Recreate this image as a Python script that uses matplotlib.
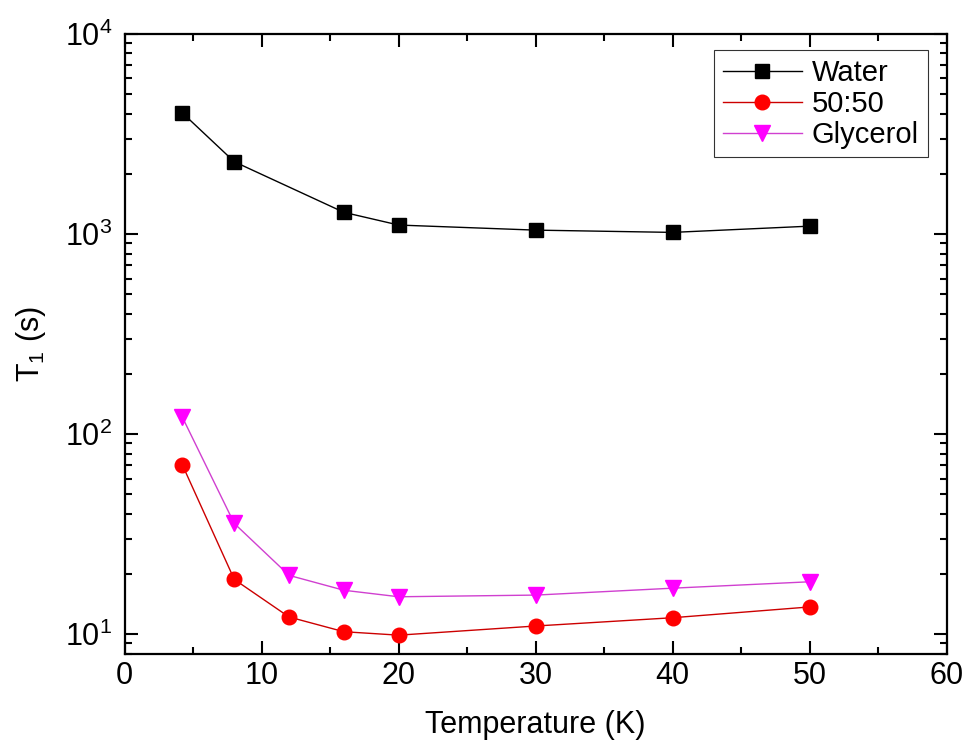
import numpy as np
import matplotlib
matplotlib.use('Agg')
import matplotlib.pyplot as plt
from matplotlib.ticker import LogLocator, MultipleLocator, NullFormatter

plt.rcParams['font.family'] = ['Liberation Sans', 'DejaVu Sans']
plt.rcParams['mathtext.fontset'] = 'custom'
plt.rcParams['mathtext.rm'] = 'Liberation Sans'
plt.rcParams['mathtext.it'] = 'Liberation Sans'

# data
temp = [4.2, 8, 16, 20, 30, 40, 50]
water = [4040, 2300, 1285, 1110, 1047, 1020, 1096]

temp_mix = [4.2, 8, 12, 16, 20, 30, 40, 50]
mix_5050 = [70.5, 18.8, 12.2, 10.3, 9.9, 11.0, 12.1, 13.7]
glycerol = [122, 35.8, 19.7, 16.6, 15.4, 15.7, 17.0, 18.3]

fig = plt.figure(figsize=(9.68, 7.53), dpi=100)
ax = fig.add_axes([0.1288, 0.1319, 0.8492, 0.8229])

ax.plot(temp, water, color='black', lw=1, marker='s', ms=9.5,
        mfc='black', mec='black', label='Water')
ax.plot(temp_mix, mix_5050, color='#cc0000', lw=1, marker='o', ms=10.5,
        mfc='red', mec='red', label='50:50')
ax.plot(temp_mix, glycerol, color='#d040d0', lw=1, marker='v', ms=11.5,
        mfc='#ff00ff', mec='#ff00ff', label='Glycerol')

ax.set_yscale('log')
ax.set_xlim(0, 60)
ax.set_ylim(8, 1e4)

ax.xaxis.set_major_locator(MultipleLocator(10))
ax.xaxis.set_minor_locator(MultipleLocator(5))
ax.yaxis.set_major_locator(LogLocator(base=10, numticks=10))
ax.yaxis.set_minor_locator(LogLocator(base=10, subs=np.arange(2, 10), numticks=20))
ax.yaxis.set_minor_formatter(NullFormatter())

ax.tick_params(which='both', direction='in', top=True, right=True, width=1.5,
               labelsize=22)
ax.tick_params(which='major', length=9.5)
ax.tick_params(axis='x', which='major', pad=5)
ax.tick_params(axis='y', which='major', pad=9)
ax.tick_params(which='minor', length=5)
for s in ax.spines.values():
    s.set_linewidth(1.6)

ax.set_xlabel('Temperature (K)', fontsize=22, labelpad=14)
ax.set_ylabel('$\\mathregular{T_1}$ (s)', fontsize=22, labelpad=12)

leg = ax.legend(loc='upper right', bbox_to_anchor=(0.977, 0.974), fontsize=21,
                frameon=True, fancybox=False, edgecolor='black',
                handlelength=2.7, borderpad=0.3, labelspacing=0.1,
                handletextpad=0.35, borderaxespad=0)
leg.get_frame().set_linewidth(0.8)

fig.savefig('out.png', dpi=100)
